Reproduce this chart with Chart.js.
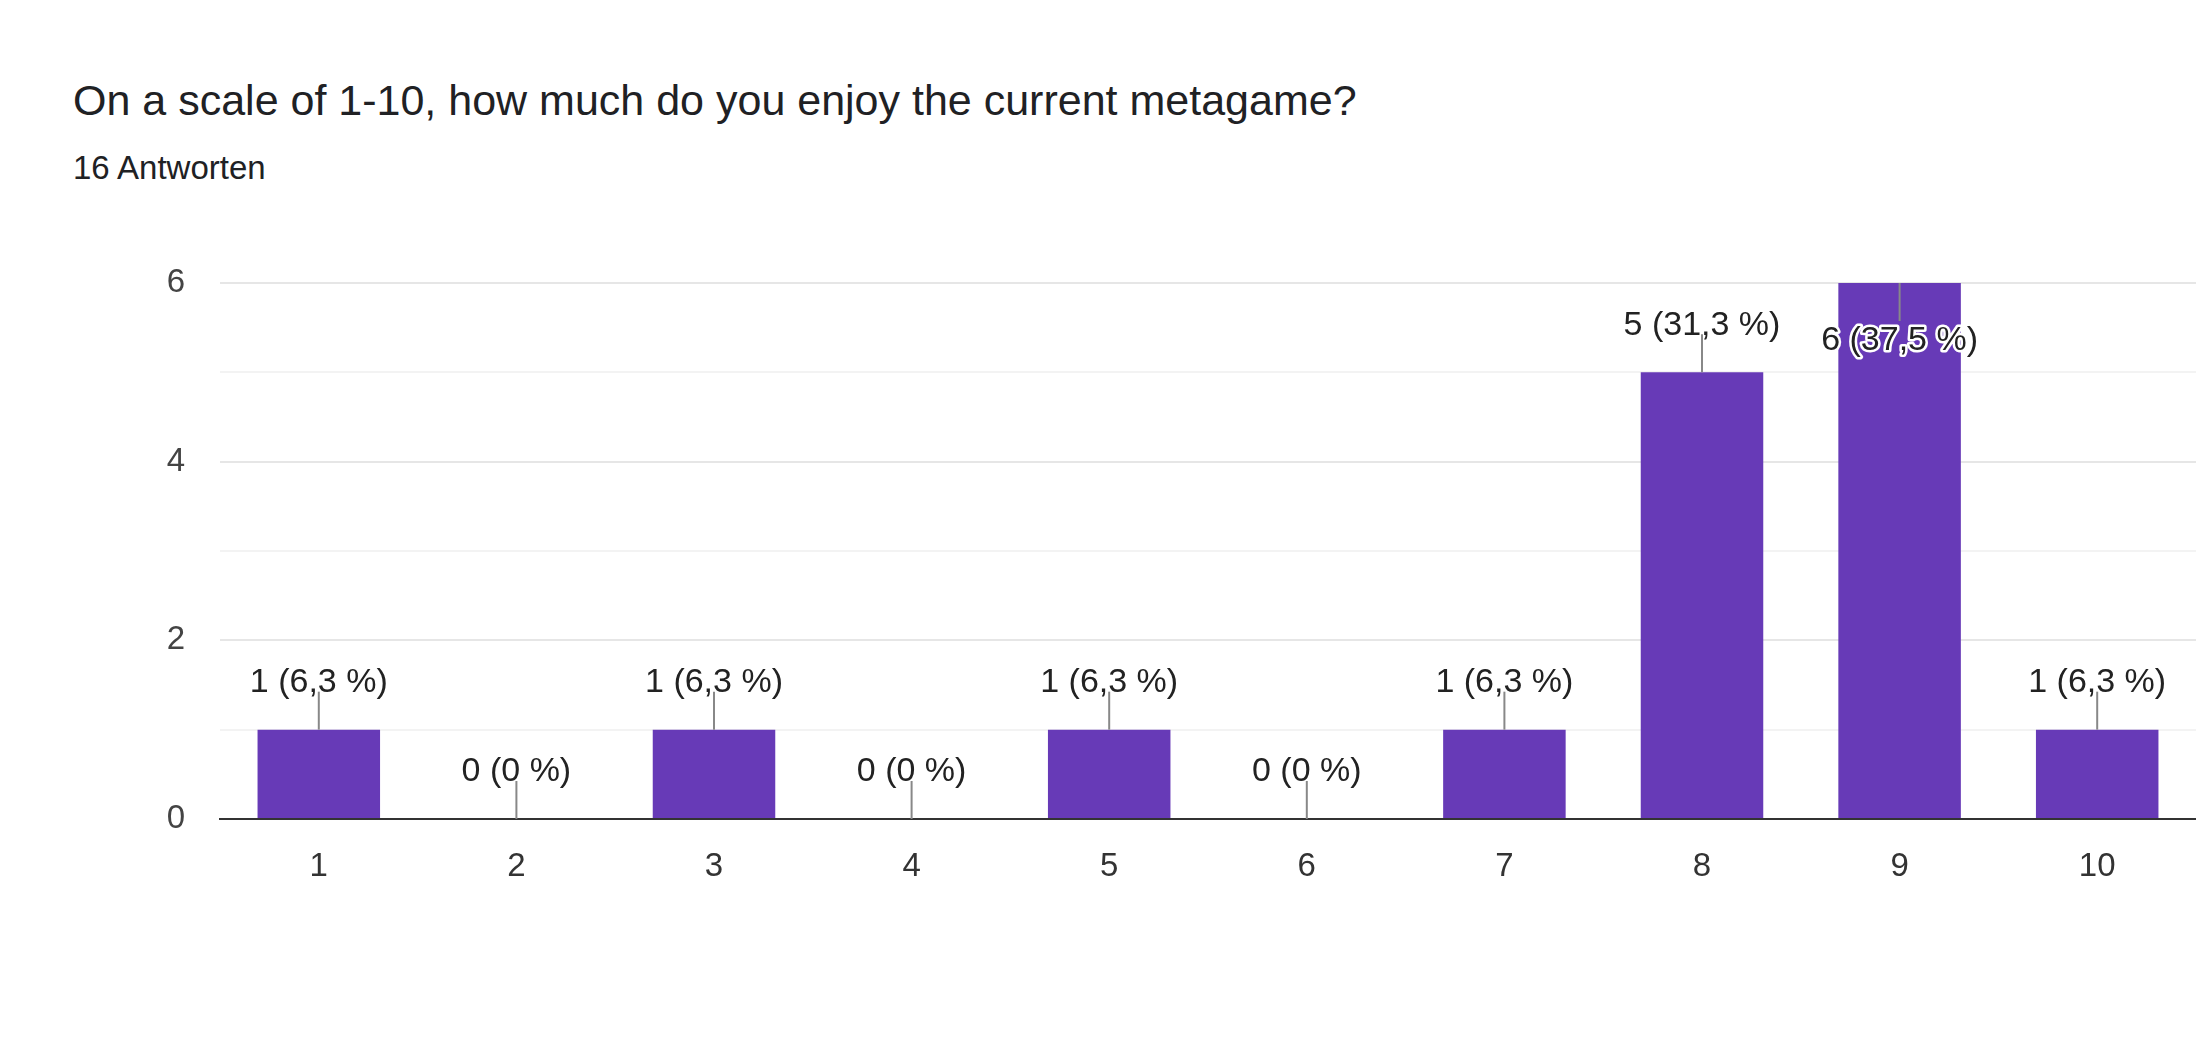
<!DOCTYPE html>
<html><head><meta charset="utf-8">
<script src="https://cdn.jsdelivr.net/npm/chart.js@4"></script>
<style>
body{margin:0;background:#fff;font-family:"Liberation Sans",Arial,sans-serif}
#wrap{position:relative;width:2196px;height:1044px}
#title{position:absolute;left:73px;top:76px;font-size:43px;color:#202124}
#sub{position:absolute;left:73px;top:149px;font-size:33px;color:#202124}
canvas{position:absolute;left:0;top:0}
</style></head><body>
<div id="wrap">
<div id="title">On a scale of 1-10, how much do you enjoy the current metagame?</div>
<div id="sub">16 Antworten</div>
<canvas id="graph" width="2196" height="1044"></canvas>
</div>
<script>
const categories = ['1','2','3','4','5','6','7','8','9','10'];
const counts = [1,0,1,0,1,0,1,5,6,1];
const percentLabels = ['6,3 %','0 %','6,3 %','0 %','6,3 %','0 %','6,3 %','31,3 %','37,5 %','6,3 %'];

const valueLabels = {
    id: 'valueLabels',
    afterDatasetsDraw(chart) {
        const c = chart.ctx;
        const meta = chart.getDatasetMeta(0);
        const top = chart.chartArea.top;
        c.save();
        c.font = '34px "Liberation Sans", Arial, sans-serif';
        c.textAlign = 'center';
        c.textBaseline = 'middle';
        meta.data.forEach((bar, i) => {
            const text = counts[i] + ' (' + percentLabels[i] + ')';
            let y0 = bar.y, y1, ty, inside = false;
            if (y0 - 70 < top) {
                y0 = top; y1 = top + 38; ty = top + 58; inside = true;
            } else {
                y1 = y0 - 38; ty = y1 - 9;
            }
            c.strokeStyle = '#888'; c.lineWidth = 2;
            c.beginPath(); c.moveTo(bar.x, y0); c.lineTo(bar.x, y1); c.stroke();
            if (inside) {
                c.strokeStyle = '#fff'; c.lineWidth = 5; c.lineJoin = 'round';
                c.strokeText(text, bar.x, ty);
            }
            c.fillStyle = '#222';
            c.fillText(text, bar.x, ty);
        });
        c.restore();
    }
};

new Chart(document.getElementById('graph').getContext('2d'), {
    type: 'bar',
    data: {
        labels: categories,
        datasets: [{ data: counts, backgroundColor: '#673ab7', barPercentage: 0.62, categoryPercentage: 1 }]
    },
    options: {
        responsive: false,
        animation: false,
        layout: { padding: { top: 283, right: 0, bottom: 165, left: 0 } },
        plugins: { legend: { display: false }, tooltip: { enabled: false } },
        scales: {
            x: {
                afterFit: s => { s.height = 60; },
                grid: { display: false },
                border: { color: '#333', width: 2 },
                ticks: { color: '#333', font: { size: 33, family: '"Liberation Sans", Arial' }, padding: 20 }
            },
            y: {
                min: 0, max: 6,
                afterFit: s => { s.width = 220; },
                border: { display: false },
                grid: { drawTicks: false, lineWidth: 2, color: ctx => ctx.tick.value % 2 ? '#f3f3f3' : '#e6e6e6' },
                ticks: { stepSize: 1, padding: 35, color: '#444', font: { size: 33, family: '"Liberation Sans", Arial' },
                    callback: v => v % 2 ? '' : v }
            }
        }
    },
    plugins: [valueLabels]
});
</script>
</body></html>
